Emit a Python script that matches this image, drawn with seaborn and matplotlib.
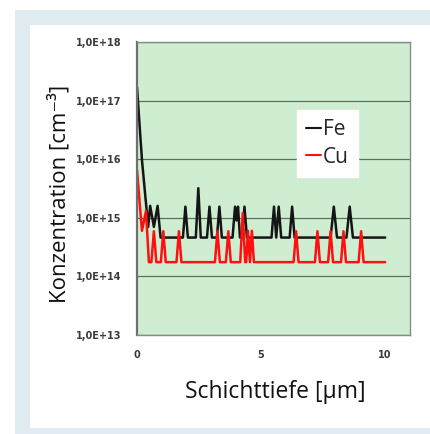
import numpy as np
import pandas as pd
import matplotlib
matplotlib.use("Agg")
import matplotlib.pyplot as plt
from matplotlib.patches import Rectangle
from matplotlib.ticker import FuncFormatter, FixedLocator
import seaborn as sns

# depth profile vertices (depth in um, concentration in cm^-3)
fe_depth = [0, 0.2, 0.45, 0.53, 0.68, 0.83, 0.95,
            1.85, 1.95, 2.05,
            2.37, 2.47, 2.57,
            2.82, 2.92, 3.02,
            3.22, 3.32, 3.42,
            3.85, 3.95, 4.01, 4.07, 4.15,
            4.23, 4.33, 4.43,
            5.42, 5.52, 5.61, 5.71, 5.81,
            6.15, 6.25, 6.35,
            7.80, 7.93, 8.06,
            8.44, 8.57, 8.70,
            10.0]
fe_conc = [1.7e17, 9.7e15, 7e14, 1.6e15, 7e14, 1.6e15, 4.6e14,
           4.6e14, 1.55e15, 4.6e14,
           4.6e14, 3.2e15, 4.6e14,
           4.6e14, 1.55e15, 4.6e14,
           4.6e14, 1.55e15, 4.6e14,
           4.6e14, 1.55e15, 9e14, 1.55e15, 4.6e14,
           4.6e14, 1.55e15, 4.6e14,
           4.6e14, 1.55e15, 4.6e14, 1.55e15, 4.6e14,
           4.6e14, 1.55e15, 4.6e14,
           4.6e14, 1.55e15, 4.6e14,
           4.6e14, 1.55e15, 4.6e14,
           4.6e14]

cu_depth = [0, 0.2, 0.36, 0.48, 0.58, 0.68, 0.78, 0.96, 1.06, 1.16,
            1.59, 1.69, 1.79,
            3.14, 3.24, 3.34,
            3.58, 3.68, 3.78,
            4.16, 4.26, 4.36, 4.40, 4.47, 4.55, 4.63, 4.71,
            6.31, 6.41, 6.51,
            7.17, 7.27, 7.37,
            7.70, 7.80, 7.90,
            8.22, 8.32, 8.42,
            8.93, 9.03, 9.13,
            10.0]
cu_conc = [6.5e15, 6e14, 1.3e15, 1.75e14, 1.75e14, 5.9e14, 1.75e14, 1.75e14, 5.9e14, 1.75e14,
           1.75e14, 5.9e14, 1.75e14,
           1.75e14, 5.9e14, 1.75e14,
           1.75e14, 5.9e14, 1.75e14,
           1.75e14, 1.2e15, 1.75e14, 1.75e14, 6e14, 1.75e14, 6e14, 1.75e14,
           1.75e14, 5.9e14, 1.75e14,
           1.75e14, 5.9e14, 1.75e14,
           1.75e14, 5.9e14, 1.75e14,
           1.75e14, 5.9e14, 1.75e14,
           1.75e14, 5.9e14, 1.75e14,
           1.75e14]

y_ticks = [1e13, 1e14, 1e15, 1e16, 1e17, 1e18]
x_ticks = [0, 5, 10]

FONT = "Open Sans"

sns.set_style("white")
plt.rcParams["font.family"] = [FONT, "DejaVu Sans"]

fig = plt.figure(figsize=(4.31, 4.34), dpi=100, facecolor="white")

# light blue frame and white inner panel
fig.patches.append(Rectangle((15 / 431, 0), 1 - 15 / 431, 1 - 10 / 434,
                             transform=fig.transFigure, facecolor="#e1ecf2",
                             edgecolor="none", zorder=-2))
fig.patches.append(Rectangle((30 / 431, 6 / 434), 400 / 431, 403 / 434,
                             transform=fig.transFigure, facecolor="white",
                             edgecolor="none", zorder=-1))

ax = fig.add_axes([137 / 431, 1 - 335 / 434, 273 / 431, 293 / 434])
ax.set_facecolor("#cfeed1")

sns.lineplot(x=fe_depth, y=fe_conc, color="#151515", linewidth=1.8,
             label="Fe", ax=ax, estimator=None, sort=False)
sns.lineplot(x=cu_depth, y=cu_conc, color="#ff1010", linewidth=1.8,
             label="Cu", ax=ax, estimator=None, sort=False)

ax.set_yscale("log")
ax.set_ylim(1e13, 1e18)
ax.set_xlim(0, 11)

ax.yaxis.set_major_locator(FixedLocator(y_ticks))
ax.yaxis.set_minor_locator(FixedLocator([]))
ax.xaxis.set_major_locator(FixedLocator(x_ticks))
ax.yaxis.set_major_formatter(FuncFormatter(lambda v, p: f"1,0E+{int(round(np.log10(v)))}"))

ax.yaxis.grid(True, color="#5f6f5f", linewidth=0.9)
ax.xaxis.grid(False)
ax.set_axisbelow(True)

for side in ["top", "right", "bottom"]:
    ax.spines[side].set_color("#8a8a8a")
    ax.spines[side].set_linewidth(1.0)
ax.spines["left"].set_color("#6f6f6f")
ax.spines["left"].set_linewidth(1.6)

ax.tick_params(axis="both", length=0)
ax.tick_params(axis="y", pad=11)
ax.tick_params(axis="x", pad=11)
for lab in ax.get_yticklabels() + ax.get_xticklabels():
    lab.set_fontfamily("DejaVu Sans")
    lab.set_fontweight("bold")
    lab.set_fontsize(7)
    lab.set_color("#3a3a3a")

ax.set_ylabel("Konzentration [cm⁻³]", fontsize=16, color="#111111")
ax.set_xlabel("Schichttiefe [µm]", fontsize=16.5, color="#111111")
ax.yaxis.set_label_coords(-0.245, 0.48)
ax.xaxis.set_label_coords(0.505, -0.155)

leg = ax.legend(loc="upper left", bbox_to_anchor=(0.586, 0.768), frameon=True,
                fancybox=False, framealpha=1, edgecolor="white", facecolor="white",
                fontsize=15, handlelength=0.7, handletextpad=0.1,
                labelspacing=0.3, borderpad=0.45, borderaxespad=0)
for line in leg.get_lines():
    line.set_linewidth(1.5)

fig.savefig("out.png", dpi=100, facecolor=fig.get_facecolor())
